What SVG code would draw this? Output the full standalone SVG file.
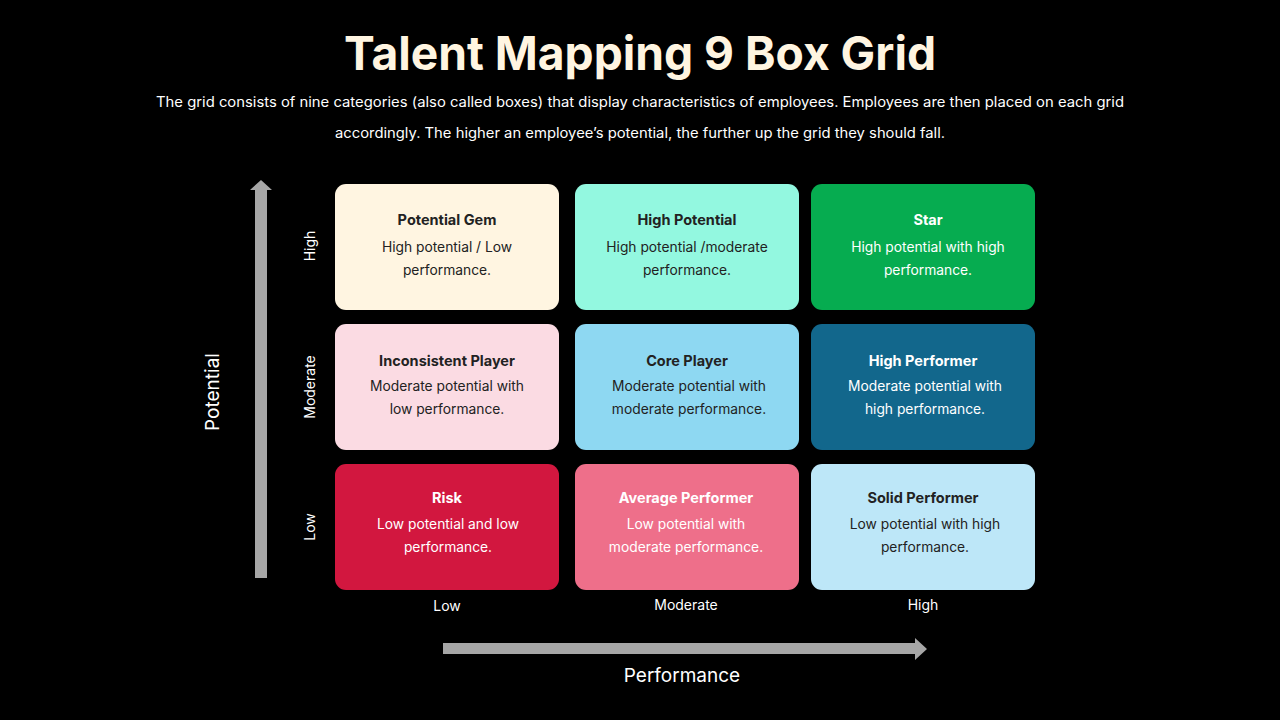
<svg xmlns="http://www.w3.org/2000/svg" width="1280" height="720" viewBox="0 0 1280 720">
<style>
.bg{fill:#000}
.title{font-family:Inter,"Liberation Sans",sans-serif;font-weight:700;font-size:47px;fill:#FFF5E1;text-anchor:middle}
.sub{font-family:Inter,"Liberation Sans",sans-serif;font-size:14px;fill:#fff;text-anchor:middle}
.ht{font-family:Inter,"Liberation Sans",sans-serif;font-weight:700;font-size:14.5px;text-anchor:middle}
.dt{font-family:Inter,"Liberation Sans",sans-serif;font-size:13.8px;text-anchor:middle}
.dark{fill:#222}
.light{fill:#fff}
.ax{font-family:Inter,"Liberation Sans",sans-serif;font-size:14px;fill:#fff;text-anchor:middle}
.axt{font-family:Inter,"Liberation Sans",sans-serif;font-size:19px;fill:#fff;text-anchor:middle}
.arrow{fill:#A6A6A6}
</style>
<rect class="bg" x="0" y="0" width="1280" height="720"/>
<g id="header">
<text class="title" x="640" y="70" textLength="592" lengthAdjust="spacingAndGlyphs">Talent Mapping 9 Box Grid</text>
<text class="sub" x="640" y="107" textLength="968" lengthAdjust="spacingAndGlyphs">The grid consists of nine categories (also called boxes) that display characteristics of employees. Employees are then placed on each grid</text>
<text class="sub" x="640" y="138" textLength="610" lengthAdjust="spacingAndGlyphs">accordingly. The higher an employee’s potential, the further up the grid they should fall.</text>
</g>
<g id="connectors">
<polygon class="arrow" points="255,578 255,190 250,190 261,180 272,190 267,190 267,578"/>
<polygon class="arrow" points="443,643 915,643 915,638 927,649 915,660 915,654 443,654"/>
</g>
<g id="axis-labels">
<text class="axt" transform="translate(219,392) rotate(-90)">Potential</text>
<text class="ax" transform="translate(315,246) rotate(-90)">High</text>
<text class="ax" transform="translate(315,387) rotate(-90)">Moderate</text>
<text class="ax" transform="translate(315,527) rotate(-90)">Low</text>
<text class="ax" x="447" y="611">Low</text>
<text class="ax" x="686" y="610">Moderate</text>
<text class="ax" x="923" y="610">High</text>
<text class="axt" x="682" y="682">Performance</text>
</g>
<g id="potential-gem">
<rect x="335" y="184" width="224" height="126" rx="11" fill="#FFF5E1"/>
<text class="ht dark" x="447" y="225">Potential Gem</text>
<text class="dt dark" x="447" y="252">High potential / Low</text>
<text class="dt dark" x="447" y="275">performance.</text>
</g>
<g id="high-potential">
<rect x="575" y="184" width="224" height="126" rx="11" fill="#93F8E0"/>
<text class="ht dark" x="687" y="225">High Potential</text>
<text class="dt dark" x="687" y="252">High potential /moderate</text>
<text class="dt dark" x="687" y="275">performance.</text>
</g>
<g id="star">
<rect x="811" y="184" width="224" height="126" rx="11" fill="#06AC50"/>
<text class="ht light" x="928" y="225">Star</text>
<text class="dt light" x="928" y="252">High potential with high</text>
<text class="dt light" x="928" y="275">performance.</text>
</g>
<g id="inconsistent-player">
<rect x="335" y="324" width="224" height="126" rx="11" fill="#FBDBE3"/>
<text class="ht dark" x="447" y="366">Inconsistent Player</text>
<text class="dt dark" x="447" y="391">Moderate potential with</text>
<text class="dt dark" x="447" y="414">low performance.</text>
</g>
<g id="core-player">
<rect x="575" y="324" width="224" height="126" rx="11" fill="#8ED8F2"/>
<text class="ht dark" x="687" y="366">Core Player</text>
<text class="dt dark" x="689" y="391">Moderate potential with</text>
<text class="dt dark" x="689" y="414">moderate performance.</text>
</g>
<g id="high-performer">
<rect x="811" y="324" width="224" height="126" rx="11" fill="#12678C"/>
<text class="ht light" x="923" y="366">High Performer</text>
<text class="dt light" x="925" y="391">Moderate potential with</text>
<text class="dt light" x="925" y="414">high performance.</text>
</g>
<g id="risk">
<rect x="335" y="464" width="224" height="126" rx="11" fill="#D2173F"/>
<text class="ht light" x="447" y="503">Risk</text>
<text class="dt light" x="448" y="529">Low potential and low</text>
<text class="dt light" x="448" y="552">performance.</text>
</g>
<g id="average-performer">
<rect x="575" y="464" width="224" height="126" rx="11" fill="#EE6F8A"/>
<text class="ht light" x="686" y="503">Average Performer</text>
<text class="dt light" x="686" y="529">Low potential with</text>
<text class="dt light" x="686" y="552">moderate performance.</text>
</g>
<g id="solid-performer">
<rect x="811" y="464" width="224" height="126" rx="11" fill="#BDE7F8"/>
<text class="ht dark" x="923" y="503">Solid Performer</text>
<text class="dt dark" x="925" y="529">Low potential with high</text>
<text class="dt dark" x="925" y="552">performance.</text>
</g>
</svg>
